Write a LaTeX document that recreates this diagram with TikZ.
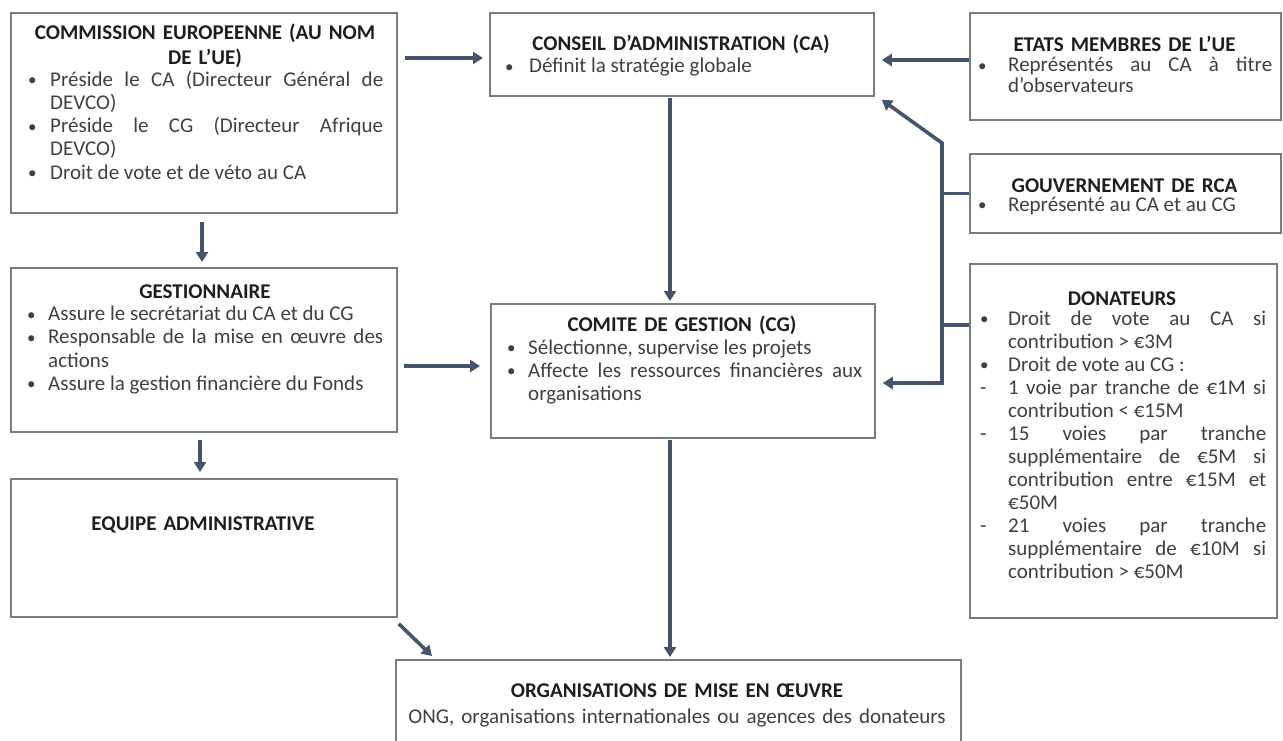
\documentclass[tikz,border=0pt]{standalone}
\usepackage{fontspec}
\setmainfont{Carlito}
\usetikzlibrary{arrows.meta,calc}
\definecolor{arrc}{HTML}{44546A}
\definecolor{boxc}{HTML}{7A7A7A}
\definecolor{txtc}{HTML}{404040}
\definecolor{ttlc}{HTML}{1E1E1E}
\hyphenpenalty=10000 \exhyphenpenalty=10000
\tolerance=9999 \emergencystretch=20pt
\newcommand{\bulsym}{\raisebox{0.5pt}{\fontsize{17}{17}\selectfont\textbullet}}
\newcommand{\bitem}[2][\bulsym]{\hangindent=\hw\hangafter=1\makebox[\hw][l]{#1}#2\par}
\begin{document}
\begin{tikzpicture}[x=1pt,y=-1pt,
  box/.style={draw=boxc, line width=1.8pt, fill=white, inner sep=0pt, anchor=north west, rectangle},
  ttl/.style={anchor=base, inner sep=0pt, text=ttlc, text width=560pt, align=center, font=\fontsize{21}{25}\selectfont\bfseries},
  sub/.style={anchor=base, inner sep=0pt, text=txtc, text width=560pt, align=center, font=\fontsize{21}{25}\selectfont},
  body/.style={anchor=base west, inner sep=0pt, text=txtc, align=justify, font=\fontsize{21}{23.3}\selectfont},
  tip/.tip={Triangle[length=10pt,width=12pt]},
  arr/.style={draw=arrc, line width=3.6pt, -tip},
  arrb/.style={draw=arrc, line width=3.6pt, line join=miter, tip-tip},
  lnk/.style={draw=arrc, line width=3.6pt}]
\useasboundingbox[fill=white] (0,0) rectangle (1283,740);

% boxes
\node[box, minimum width=386pt, minimum height=200pt] (comm) at (10,12) {};
\node[box, minimum width=384pt, minimum height=83pt] (ca) at (489,12) {};
\node[box, minimum width=311pt, minimum height=107pt] (etats) at (969,12) {};
\node[box, minimum width=311pt, minimum height=79pt] (gouv) at (969,153) {};
\node[box, minimum width=307pt, minimum height=354pt] (don) at (969,263) {};
\node[box, minimum width=386pt, minimum height=164pt] (gest) at (10,267) {};
\node[box, minimum width=384pt, minimum height=134pt] (cg) at (490,303) {};
\node[box, minimum width=386pt, minimum height=138pt] (equipe) at (10,478) {};
\node[box, minimum width=565pt, minimum height=100pt] (org) at (395,659) {};

% texts
\node[ttl] (commT) at (205,39.5) {COMMISSION EUROPEENNE (AU NOM\\DE L’UE)};
\node[body, text width=355pt] (commB) at (28,86) {\def\hw{22pt}%
\bitem{Préside le CA (Directeur Général de DEVCO)}%
\bitem{Préside le CG (Directeur Afrique DEVCO)}%
\bitem{Droit de vote et de véto au CA}};

\node[ttl] (caT) at (681,50.5) {CONSEIL D’ADMINISTRATION (CA)};
\node[body, text width=355pt] (caB) at (505,72.5) {\def\hw{24pt}%
\bitem{Définit la stratégie globale}};

\node[ttl] (etatsT) at (1124.5,51) {ETATS MEMBRES DE L’UE};
\node[body, text width=294pt, font=\fontsize{21}{21}\selectfont] (etatsB) at (978,71.5) {\def\hw{30pt}%
\bitem{Représentés au CA à titre d'observateurs}};

\node[ttl] (gouvT) at (1124.5,192) {GOUVERNEMENT DE RCA};
\node[body, text width=294pt] (gouvB) at (978,211) {\def\hw{30pt}%
\bitem{Représenté au CA et au CG}};

\node[ttl] (donT) at (1122,305) {DONATEURS};
\node[body, text width=286pt, font=\fontsize{21}{23}\selectfont] (donB) at (980,325) {\def\hw{28pt}%
\bitem{Droit de vote au CA si contribution > €3M}%
\bitem{Droit de vote au CG~:}%
\bitem[-]{1 voie par tranche de €1M si contribution < €15M}%
\bitem[-]{15 voies par tranche supplémentaire de €5M si contribution entre €15M et €50M}%
\bitem[-]{21 voies par tranche supplémentaire de €10M si contribution > €50M}};

\node[ttl] (gestT) at (205,298) {GESTIONNAIRE};
\node[body, text width=356pt] (gestB) at (27,320.5) {\def\hw{21pt}%
\bitem{Assure le secrétariat du CA et du CG}%
\bitem{Responsable de la mise en œuvre des actions}%
\bitem{Assure la gestion financière du Fonds}};

\node[ttl] (cgT) at (682,331) {COMITE DE GESTION (CG)};
\node[body, text width=355pt] (cgB) at (507,354) {\def\hw{21pt}%
\bitem{Sélectionne, supervise les projets}%
\bitem{Affecte les ressources financières aux organisations}};

\node[ttl] (equipeT) at (203,530) {EQUIPE ADMINISTRATIVE};

\node[ttl] (orgT) at (677,697) {ORGANISATIONS DE MISE EN ŒUVRE};
\node[sub] (orgS) at (677,723) {ONG, organisations internationales ou agences des donateurs};

% connectors
\draw[arr, shorten <=7pt, shorten >=6pt] (comm.east |- 0,58) -- (ca.west |- 0,58);
\draw[arr, shorten >=7pt] (etats.west |- 0,60) -- (ca.east |- 0,60);
\draw[arr, shorten <=1pt, shorten >=2pt] (ca.south -| 670,0) -- (cg.north -| 670,0);
\draw[arr, shorten <=1pt, shorten >=2pt] (cg.south -| 670,0) -- (org.north -| 670,0);
\draw[arr, shorten <=8pt, shorten >=5pt] (comm.south -| 202,0) -- (gest.north -| 202,0);
\draw[arr, shorten <=7pt, shorten >=6pt] (gest.south -| 200,0) -- (equipe.north -| 200,0);
\draw[arr, shorten <=6pt, shorten >=10pt] (gest.east |- 0,366) -- (cg.west |- 0,366);
\draw[arr] ([shift={(1,6)}]equipe.south east) -- ([shift={(37,-3)}]org.north west);

\coordinate (j1) at (942,143);
\coordinate (j2) at (942,383);
\draw[lnk] (gouv.west) -- (gouv.west -| j1);
\draw[lnk] (don.west |- 0,325) -- (j1 |- 0,325);
\draw[arrb, shorten >=7pt] ([shift={(7,3)}]ca.south east) -- (j1) -- (j2) -- (cg.east |- j2);
\end{tikzpicture}
\end{document}
